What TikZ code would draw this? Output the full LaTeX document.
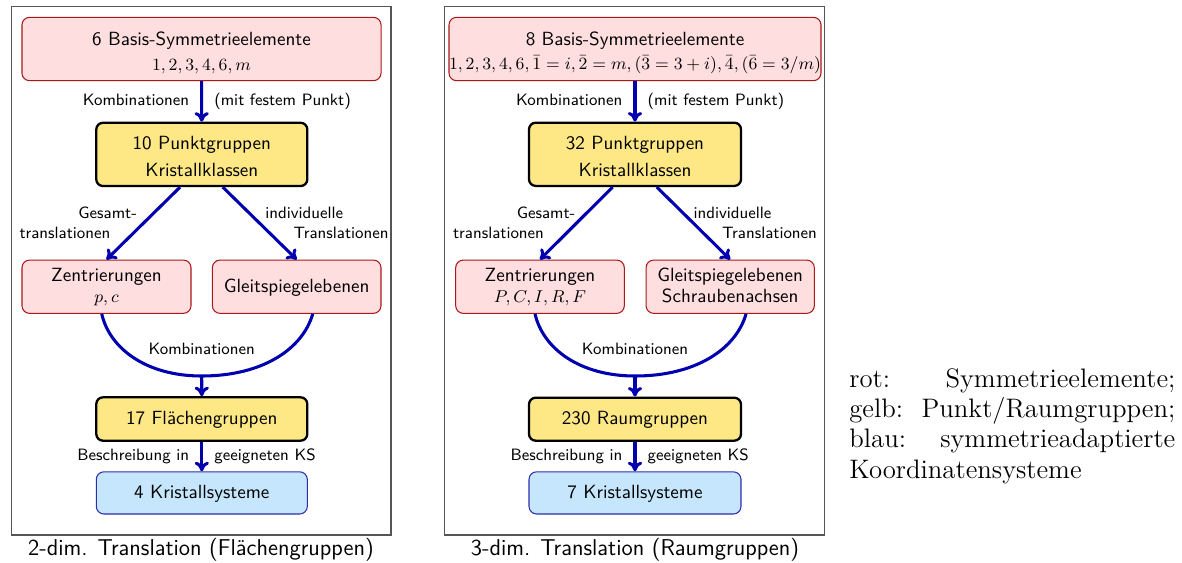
\documentclass[tikz,border=0pt]{standalone}
\usepackage{fontspec}
\usetikzlibrary{arrows.meta}
\definecolor{arrblue}{RGB}{0,0,175}
\definecolor{redfill}{RGB}{255,222,224}
\definecolor{reddraw}{RGB}{170,25,25}
\definecolor{yelfill}{RGB}{254,232,133}
\definecolor{bluefill}{RGB}{197,230,252}
\definecolor{bluedraw}{RGB}{45,45,175}
\definecolor{framegray}{RGB}{85,85,85}
\newcommand\mathsz{\fontsize{8.8}{13}\selectfont}
\newcommand\legendfont{\rmfamily\fontsize{14}{15.9}\selectfont
  \tolerance=10000 \hyphenpenalty=10000 }
\begin{document}
\begin{tikzpicture}[x=0.5236pt,y=-0.5236pt,
  box/.style={rectangle, inner sep=0pt, align=center, font=\sffamily\fontsize{10}{13}\selectfont},
  redbox/.style={box, fill=redfill, draw=reddraw, line width=0.55pt, rounded corners=4pt},
  yelbox/.style={box, fill=yelfill, draw=black, line width=1.2pt, rounded corners=3.5pt},
  bluebox/.style={box, fill=bluefill, draw=bluedraw, line width=0.55pt, rounded corners=4pt},
  arr/.style={draw=arrblue, line width=1.6pt, -{To[length=5pt,width=7.5pt]}},
  arcline/.style={draw=arrblue, line width=1.6pt},
  elab/.style={inner sep=0pt, font=\sffamily\fontsize{8.6}{10}\selectfont, text height=6pt, text depth=1.7pt},
  captext/.style={inner sep=0pt, font=\sffamily\fontsize{12}{14}\selectfont, anchor=base},
  framebox/.style={draw=framegray, line width=0.65pt}]
\useasboundingbox (0,0) rectangle (1182,562);
% frames
\draw[framebox] (11.5,6.5) rectangle (391,535);
\draw[framebox] (444.5,6.5) rectangle (824.5,535);

% ---------- left column ----------
\node[redbox, minimum width=188pt, minimum height=33.2pt, text height=22.7pt, text depth=0pt,
      font=\sffamily\fontsize{10}{13.4}\selectfont] (Lbasis) at (201.5,49)
  {6 Basis-Symmetrieelemente\\\mathsz$1,2,3,4,6,m$};
\node[yelbox, minimum width=110.5pt, minimum height=33.1pt, text height=23.36pt, text depth=0pt,
      font=\sffamily\fontsize{10}{14}\selectfont] (Ly1) at (201.8,154.4)
  {10 Punktgruppen\\Kristallklassen};
\node[redbox, minimum width=88.5pt, minimum height=27.9pt, text height=16.34pt, text depth=0pt,
      font=\sffamily\fontsize{10}{10.8}\selectfont] (Lzent) at (106.5,286.7)
  {Zentrierungen\\\mathsz$p,c$};
\node[redbox, minimum width=88.3pt, minimum height=27.9pt, text height=5.9pt, text depth=0pt] (Lgleit) at (296.7,286.7)
  {Gleitspiegelebenen};
\node[yelbox, minimum width=110.5pt, minimum height=22.7pt, text height=5.55pt, text depth=0pt] (Ly2) at (201.8,419)
  {17 Flächengruppen};
\node[bluebox, minimum width=110.5pt, minimum height=22.1pt, text height=5.65pt, text depth=0pt] (Lblue) at (201.8,492.9)
  {4 Kristallsysteme};

\draw[arr] (Lbasis) -- node[elab, left=5.8pt] (Lk1) {Kombinationen}
                      node[elab, right=5.8pt] (Lk2) {(mit festem Punkt)} (Ly1);
\draw[arr] ([xshift=-11.4pt]Ly1.south) -- (Lzent.north);
\draw[arr] ([xshift=11pt]Ly1.south) -- (Lgleit.north);
\node[elab, anchor=base east] (Lg1) at (137.3,218.3) {Gesamt-};
\node[elab, anchor=base east] (Lg2) at (110.7,238.3) {translationen};
\node[elab, anchor=base west] (Li1) at (265,218.3) {individuelle};
\node[elab, anchor=base west] (Li2) at (293.3,238.3) {Translationen};
\coordinate (Lkl) at (201.7,376);
\draw[arcline] ([xshift=-2.5pt]Lzent.south) .. controls +(8,35) and +(-55,0) .. (Lkl)
               .. controls +(61,0) and +(-10,35) .. ([xshift=8.4pt]Lgleit.south);
\node[elab, anchor=base] (Lkomb) at (201.7,354.3) {Kombinationen};
\draw[arr] (Lkl) -- (Ly2.north);
\draw[arr] (Ly2) -- node[elab, left=5.8pt] (Lb1) {Beschreibung in}
                   node[elab, right=5.8pt] (Lb2) {geeigneten KS} (Lblue);
\node[captext] (Lcap) at (201,555) {2-dim. Translation (Flächengruppen)};

% ---------- right column ----------
\node[redbox, minimum width=187.8pt, minimum height=33.2pt, text height=21.26pt, text depth=0pt,
      font=\sffamily\fontsize{10}{12.7}\selectfont] (Rbasis) at (635,49)
  {8 Basis-Symmetrieelemente\\\mathsz$1,2,3,4,6,\bar{1}=i,\bar{2}=m,(\bar{3}=3+i),\bar{4},(\bar{6}=3/m)$};
\node[yelbox, minimum width=111pt, minimum height=33.1pt, text height=23.46pt, text depth=0pt,
      font=\sffamily\fontsize{10}{14}\selectfont] (Ry1) at (635,154.3)
  {32 Punktgruppen\\Kristallklassen};
\node[redbox, minimum width=88.3pt, minimum height=27.9pt, text height=16.34pt, text depth=0pt,
      font=\sffamily\fontsize{10}{10.8}\selectfont] (Rzent) at (540,286.7)
  {Zentrierungen\\\mathsz$P,C,I,R,F$};
\node[redbox, minimum width=88.1pt, minimum height=27.9pt, text height=16.34pt, text depth=0pt,
      font=\sffamily\fontsize{10}{10.8}\selectfont] (Rgleit) at (730.2,286.7)
  {Gleitspiegelebenen\\Schraubenachsen};
\node[yelbox, minimum width=111pt, minimum height=22.5pt, text height=5.55pt, text depth=0pt] (Ry2) at (635,419.2)
  {230 Raumgruppen};
\node[bluebox, minimum width=111pt, minimum height=22.1pt, text height=5.65pt, text depth=0pt] (Rblue) at (635,492.9)
  {7 Kristallsysteme};

\draw[arr] (Rbasis) -- node[elab, left=5.8pt] (Rk1) {Kombinationen}
                      node[elab, right=5.8pt] (Rk2) {(mit festem Punkt)} (Ry1);
\draw[arr] ([xshift=-11.7pt]Ry1.south) -- (Rzent.north);
\draw[arr] ([xshift=11.4pt]Ry1.south) -- (Rgleit.north);
\node[elab, anchor=base east] (Rg1) at (575.7,218.3) {Gesamt-};
\node[elab, anchor=base east] (Rg2) at (544.3,238.3) {translationen};
\node[elab, anchor=base west] (Ri1) at (693.3,218.3) {individuelle};
\node[elab, anchor=base west] (Ri2) at (721.7,238.3) {Translationen};
\coordinate (Rkl) at (635,376);
\draw[arcline] ([xshift=-2.6pt]Rzent.south) .. controls +(8,35) and +(-55,0) .. (Rkl)
               .. controls +(61,0) and +(-10,35) .. ([xshift=8.3pt]Rgleit.south);
\node[elab, anchor=base] (Rkomb) at (635,354.3) {Kombinationen};
\draw[arr] (Rkl) -- (Ry2.north);
\draw[arr] (Ry2) -- node[elab, left=5.8pt] (Rb1) {Beschreibung in}
                   node[elab, right=5.8pt] (Rb2) {geeigneten KS} (Rblue);
\node[captext] (Rcap) at (635,555) {3-dim. Translation (Raumgruppen)};

% ---------- legend ----------
\node[anchor=north west, inner sep=0pt, text width=170.7pt, align=justify,
      font=\legendfont] (legend) at (849,367.8)
  {rot: Symmetrieelemente;\linebreak gelb: Punkt/Raumgruppen;\linebreak blau: symmetrieadaptierte\linebreak Koordinatensysteme};
\end{tikzpicture}
\end{document}
